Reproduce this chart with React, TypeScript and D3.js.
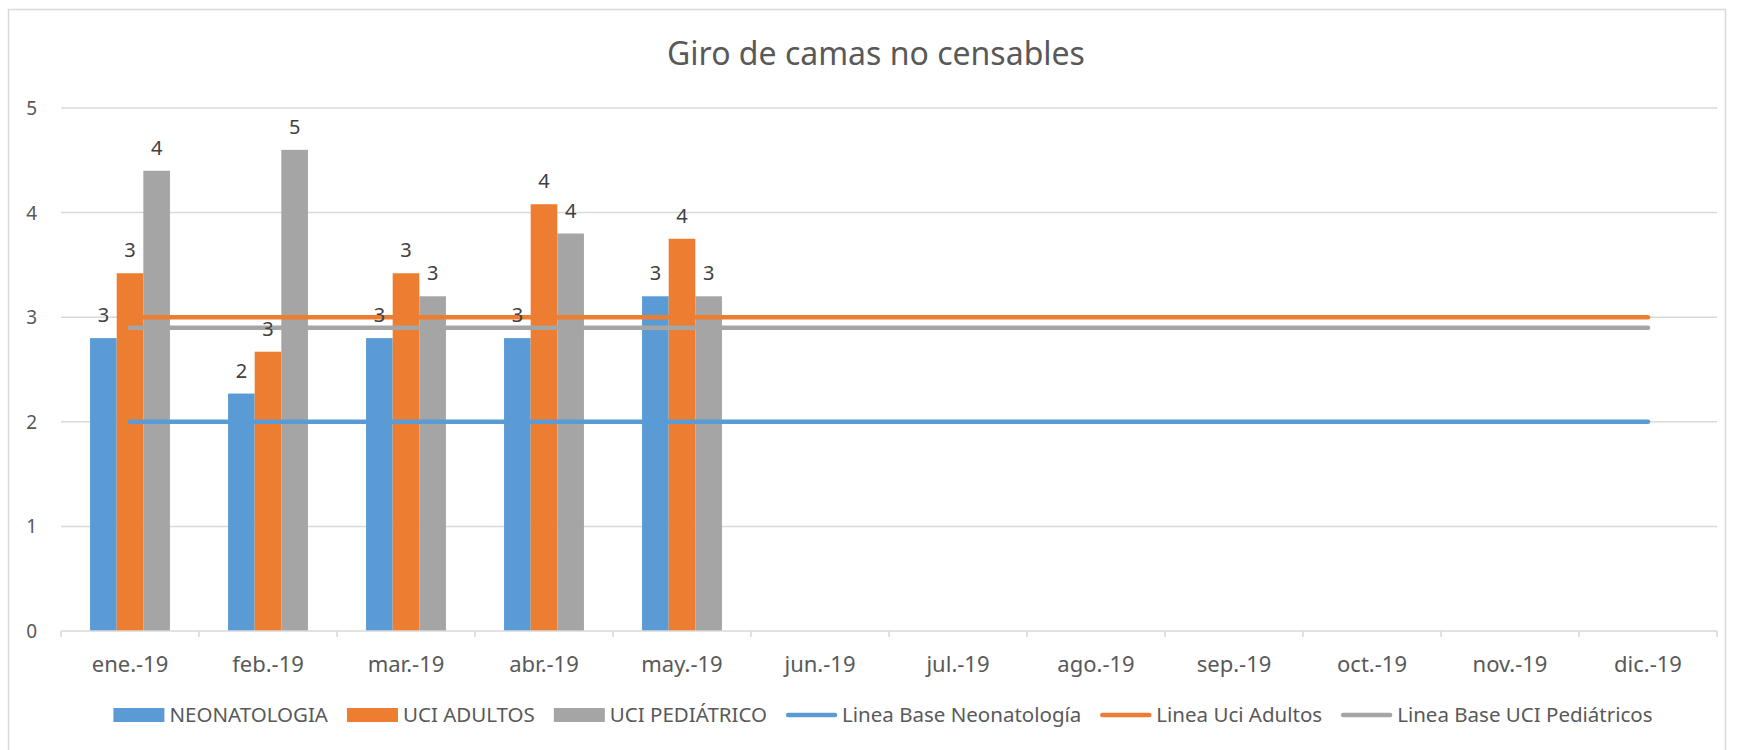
import React, { useEffect, useRef } from "react";
import * as d3 from "d3";

const months = ["ene.-19", "feb.-19", "mar.-19", "abr.-19", "may.-19", "jun.-19", "jul.-19", "ago.-19", "sep.-19", "oct.-19", "nov.-19", "dic.-19"];
const neonatologia = [2.8, 2.27, 2.8, 2.8, 3.2];
const uciAdultos = [3.42, 2.67, 3.42, 4.08, 3.75];
const uciPediatrico = [4.4, 4.6, 3.2, 3.8, 3.2];
const lineaBaseNeo = [2, 2, 2, 2, 2, 2, 2, 2, 2, 2, 2, 2];
const lineaUciAdultos = [3, 3, 3, 3, 3, 3, 3, 3, 3, 3, 3, 3];
const lineaBasePed = [2.9, 2.9, 2.9, 2.9, 2.9, 2.9, 2.9, 2.9, 2.9, 2.9, 2.9, 2.9];
const yTicks = [0, 1, 2, 3, 4, 5];

const BLUE = "#5b9bd5";
const ORANGE = "#ed7d31";
const GRAY = "#a5a5a5";
const TEXT = "#595959";
const GRID = "#d9d9d9";
const FONT = "'Noto Sans', sans-serif";

const barSeries = [
  { name: "NEONATOLOGIA", values: neonatologia, color: BLUE },
  { name: "UCI ADULTOS", values: uciAdultos, color: ORANGE },
  { name: "UCI PEDIÁTRICO", values: uciPediatrico, color: GRAY },
];
const lineSeries = [
  { name: "Linea Base Neonatología", values: lineaBaseNeo, color: BLUE },
  { name: "Linea Uci Adultos", values: lineaUciAdultos, color: ORANGE },
  { name: "Linea Base UCI Pediátricos", values: lineaBasePed, color: GRAY },
];

export default function App() {
  const ref = useRef<SVGSVGElement>(null);

  useEffect(() => {
    const W = 1738, H = 750;
    const svg = d3.select(ref.current);
    svg.selectAll("*").remove();
    const left = 61, right = 1717, top = 108, bottom = 631;

    svg.append("rect").attr("x", 0).attr("y", 0).attr("width", W).attr("height", H).attr("fill", "#fff");
    svg.append("rect").attr("x", 8.5).attr("y", 9.5).attr("width", 1717).attr("height", 900)
      .attr("fill", "none").attr("stroke", GRID).attr("stroke-width", 1.5);

    const x = d3.scaleBand<string>().domain(months).range([left, right]).paddingInner(0).paddingOuter(0);
    const y = d3.scaleLinear().domain([0, 5]).range([bottom, top]);
    const bw = x.bandwidth() * 0.193;
    const xs = d3.scaleBand<number>().domain([0, 1, 2]).range([0, bw * 3]);
    const groupOff = (x.bandwidth() - bw * 3) / 2;

    // title
    svg.append("text").attr("x", 876).attr("y", 65).attr("text-anchor", "middle")
      .attr("font-family", FONT).attr("font-size", 32).attr("fill", TEXT).text("Giro de camas no censables");

    // gridlines
    svg.append("g").selectAll("line").data(yTicks.filter(t => t > 0)).join("line")
      .attr("x1", left).attr("x2", right).attr("y1", d => y(d)).attr("y2", d => y(d))
      .attr("stroke", GRID).attr("stroke-width", 1.5);
    // y labels
    svg.append("g").selectAll("text").data(yTicks).join("text")
      .attr("x", 37).attr("y", d => y(d) + 7).attr("text-anchor", "end")
      .attr("font-family", FONT).attr("font-size", 19).attr("fill", TEXT).text(d => String(d));

    // bars
    barSeries.forEach((s, i) => {
      svg.append("g").selectAll("rect").data(s.values).join("rect")
        .attr("x", (d, j) => (x(months[j]) as number) + groupOff + (xs(i) as number))
        .attr("y", d => y(d)).attr("width", bw).attr("height", d => bottom - y(d))
        .attr("fill", s.color);
    });

    // x axis
    svg.append("line").attr("x1", left).attr("x2", right).attr("y1", bottom).attr("y2", bottom)
      .attr("stroke", GRID).attr("stroke-width", 1.5);
    const bounds = months.map(m => x(m) as number).concat([right]);
    svg.append("g").selectAll("line").data(bounds).join("line")
      .attr("x1", d => d).attr("x2", d => d).attr("y1", bottom).attr("y2", bottom + 6)
      .attr("stroke", GRID).attr("stroke-width", 1.5);
    svg.append("g").selectAll("text").data(months).join("text")
      .attr("x", d => (x(d) as number) + x.bandwidth() / 2).attr("y", 672).attr("text-anchor", "middle")
      .attr("font-family", FONT).attr("font-size", 22).attr("fill", TEXT).text(d => d);

    // lines
    lineSeries.forEach(s => {
      const line = d3.line<number>()
        .x((d, j) => (x(months[j]) as number) + x.bandwidth() / 2)
        .y(d => y(d));
      svg.append("path").datum(s.values).attr("d", line).attr("fill", "none")
        .attr("stroke", s.color).attr("stroke-width", 4.5).attr("stroke-linecap", "round");
    });

    // data labels
    barSeries.forEach((s, i) => {
      svg.append("g").selectAll("text").data(s.values).join("text")
        .attr("x", (d, j) => (x(months[j]) as number) + groupOff + (xs(i) as number) + bw / 2)
        .attr("y", d => y(d) - 16).attr("text-anchor", "middle")
        .attr("font-family", FONT).attr("font-size", 20).attr("fill", "#404040")
        .text(d => String(Math.round(d)));
    });

    // legend
    const lg = svg.append("g");
    const items = [...barSeries.map(s => ({ ...s, kind: "bar" })), ...lineSeries.map(s => ({ ...s, kind: "line" }))];
    const widths: number[] = [];
    const temp = items.map(it => {
      const t = lg.append("text").attr("font-family", FONT).attr("font-size", 20.5).attr("fill", TEXT).text(it.name);
      widths.push((t.node() as SVGTextElement).getComputedTextLength());
      return t;
    });
    const sw = 51, gapSw = 5, gapItem = 19;
    const total = widths.reduce((a, w) => a + sw + gapSw + w, 0) + gapItem * (items.length - 1);
    let cx = 883 - total / 2;
    const ly = 715;
    items.forEach((it, k) => {
      if (it.kind === "bar") {
        lg.append("rect").attr("x", cx).attr("y", ly - 7).attr("width", sw).attr("height", 14).attr("fill", it.color);
      } else {
        lg.append("line").attr("x1", cx + 2).attr("x2", cx + sw - 2).attr("y1", ly).attr("y2", ly)
          .attr("stroke", it.color).attr("stroke-width", 4.5).attr("stroke-linecap", "round");
      }
      temp[k].attr("x", cx + sw + gapSw).attr("y", ly + 7);
      cx += sw + gapSw + widths[k] + gapItem;
    });
  }, []);

  return (
    <svg ref={ref} width={1738} height={750} style={{ position: "absolute", left: 0, top: 0, display: "block" }} />
  );
}
